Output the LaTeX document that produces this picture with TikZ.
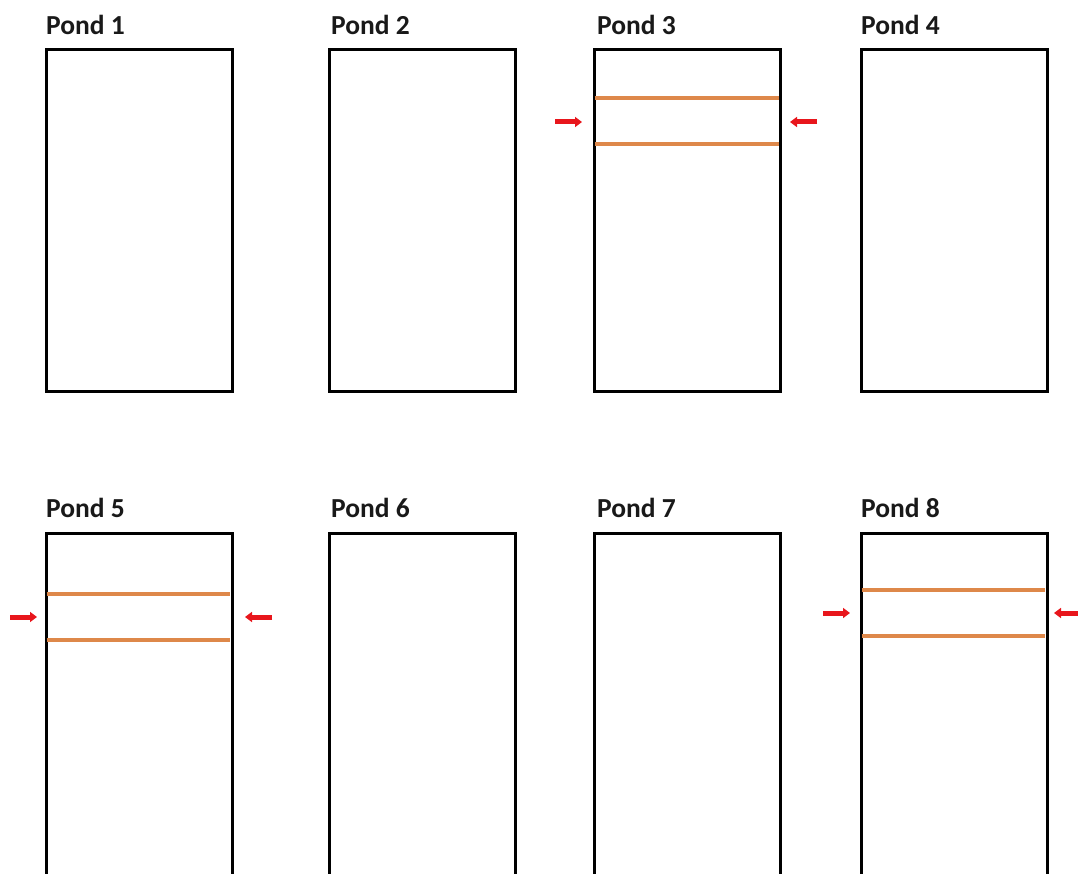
\documentclass[tikz,border=0pt]{standalone}
\usepackage{fontspec}
\setmainfont{Carlito}
\usetikzlibrary{arrows.meta}
\definecolor{pondorange}{RGB}{222,136,74}
\definecolor{arrowred}{RGB}{232,22,28}
\tikzset{
  pond/.style={draw=black, line width=3pt, fill=white, inner sep=0pt, anchor=north west,
    minimum width=186pt, minimum height=342pt},
  pondlabel/.style={anchor=base west, inner sep=0pt, font=\fontsize{27.5}{30}\selectfont\bfseries, text=black!90},
  divider/.style={draw=pondorange, line width=4pt},
  inflow/.style={draw=arrowred, line width=5pt, -{Triangle[width=10pt,length=7pt]}},
}
\begin{document}
\begin{tikzpicture}[x=1pt, y=-1pt]
\useasboundingbox[fill=white] (0,0) rectangle (1078,874);
% top row
\node[pond] (p1) at (45,48) {};
\node[pond] (p2) at (328,48) {};
\node[pond] (p3) at (593,48) {};
\node[pond] (p4) at (860,48) {};
% bottom row
\node[pond] (p5) at (45,532) {};
\node[pond] (p6) at (328,532) {};
\node[pond] (p7) at (593,532) {};
\node[pond] (p8) at (860,532) {};
% labels
\node[pondlabel] (l1) at (46,35) {Pond 1};
\node[pondlabel] (l2) at (331,35) {Pond 2};
\node[pondlabel] (l3) at (597,35) {Pond 3};
\node[pondlabel] (l4) at (861,35) {Pond 4};
\node[pondlabel] (l5) at (46,517) {Pond 5};
\node[pondlabel] (l6) at (331,517) {Pond 6};
\node[pondlabel] (l7) at (597,517) {Pond 7};
\node[pondlabel] (l8) at (861,517) {Pond 8};
% dividers
\draw[divider] (594.5,98) -- (778.5,98);
\draw[divider] (594.5,144) -- (778.5,144);
\draw[divider] (46.5,594) -- (229.5,594);
\draw[divider] (46.5,640) -- (229.5,640);
\draw[divider] (861.5,590) -- (1044.5,590);
\draw[divider] (861.5,636) -- (1044.5,636);
% arrows
\coordinate (a3lt) at (555,122); \coordinate (a3lh) at (582,122);
\coordinate (a3rt) at (817,122); \coordinate (a3rh) at (790,122);
\coordinate (a5lt) at (10,617); \coordinate (a5lh) at (37,617);
\coordinate (a5rt) at (272,617); \coordinate (a5rh) at (245,617);
\coordinate (a8lt) at (823,613); \coordinate (a8lh) at (850,613);
\coordinate (a8rt) at (1082,613); \coordinate (a8rh) at (1054,613);
\draw[inflow] (a3lt) -- (a3lh);
\draw[inflow] (a3rt) -- (a3rh);
\draw[inflow] (a5lt) -- (a5lh);
\draw[inflow] (a5rt) -- (a5rh);
\draw[inflow] (a8lt) -- (a8lh);
\draw[inflow] (a8rt) -- (a8rh);
\end{tikzpicture}
\end{document}
